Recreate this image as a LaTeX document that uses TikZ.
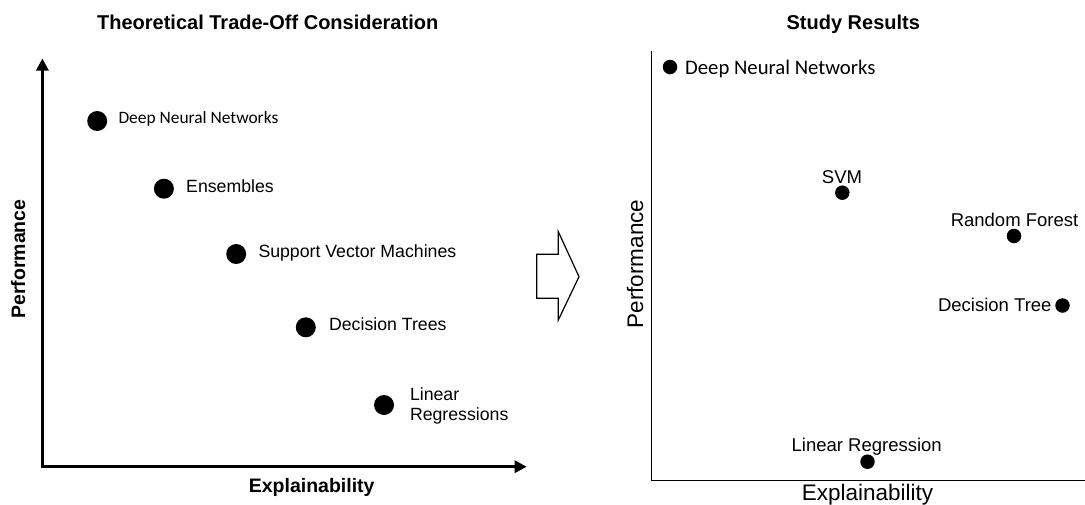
\documentclass[tikz,border=0pt]{standalone}
\usepackage{fontspec}
\setmainfont{Liberation Sans}
\newfontfamily\calib{Carlito}
\usetikzlibrary{arrows.meta}

\tikzset{
  dotL/.style={circle,fill=black,inner sep=0pt,minimum size=20pt},
  dotR/.style={circle,fill=black,inner sep=0pt,minimum size=14.5pt},
  lblL/.style={inner sep=0pt,font=\fontsize{17.7}{20.7}\selectfont},
  lblLc/.style={inner sep=0pt,font=\calib\fontsize{17.4}{20}\selectfont},
  lblR/.style={inner sep=0pt,font=\fontsize{18.5}{22}\selectfont},
  lblRc/.style={inner sep=0pt,font=\calib\fontsize{20.7}{24}\selectfont},
  ttl/.style={inner sep=0pt,font=\bfseries\fontsize{20}{24}\selectfont},
  axlblL/.style={inner sep=0pt,font=\bfseries\fontsize{19.5}{23}\selectfont},
  axlblR/.style={inner sep=0pt,font=\fontsize{22.5}{26}\selectfont},
  axisL/.style={line width=3pt,{Triangle[length=12pt,width=12pt]}-{Triangle[length=12pt,width=12pt]}},
  axisR/.style={line width=1.3pt},
  bigarrow/.style={draw=black,fill=white,line width=1.2pt,line join=miter}
}

\begin{document}
\begin{tikzpicture}[x=1pt,y=-1pt]
\useasboundingbox (0,0) rectangle (1085,504);

% ---------- left panel: theoretical trade-off ----------
\node[ttl,anchor=base] (titleL) at (267.7,29.3) {Theoretical Trade-Off Consideration};

\coordinate (yL) at (42.4,58.5);
\coordinate (oL) at (42.4,466.7);
\coordinate (xL) at (526.7,466.7);
\draw[axisL] (yL) -- (oL) -- (xL);

\node[axlblL,anchor=base,rotate=90] (perfL) at (25,259) {Performance};
\node[axlblL,anchor=base] (explL) at (311.7,492) {Explainability};

\node[dotL] (dnnL) at (97.2,121) {};
\node[lblLc,anchor=base west] (dnnLt) at (118.3,123.3) {Deep Neural Networks};

\node[dotL] (ensL) at (163.9,188.7) {};
\node[lblL,anchor=base west] (ensLt) at (186,192.7) {Ensembles};

\node[dotL] (svmL) at (236.2,254) {};
\node[lblL,anchor=base west] (svmLt) at (258.3,257.3) {Support Vector Machines};

\node[dotL] (dtL) at (305.8,327.3) {};
\node[lblL,anchor=base west] (dtLt) at (328.9,330) {Decision Trees};

\node[dotL] (lrL) at (384,405) {};
\node[lblL,anchor=base west] (lrLt) at (409.8,400)
  {\vtop{\baselineskip=20.7pt\hbox{Linear}\hbox{Regressions}}};

% ---------- transition arrow ----------
\draw[bigarrow] (536.7,254.3) -- (558.3,254.3) -- (558.3,231.7) -- (579,276.7)
  -- (558.3,320) -- (558.3,298.3) -- (536.7,298.3) -- cycle;

% ---------- right panel: study results ----------
\node[ttl,anchor=base] (titleR) at (853.3,29.3) {Study Results};

\coordinate (yR) at (651.7,51);
\coordinate (oR) at (651.7,480.7);
\coordinate (xR) at (1085,480.7);
\draw[axisR] (yR) -- (oR) -- (xR);

\node[axlblR,anchor=base,rotate=90] (perfR) at (643,264) {Performance};
\node[axlblR,anchor=base] (explR) at (867.5,500) {Explainability};

\node[dotR] (dnnR) at (670,67) {};
\node[lblRc,anchor=base west] (dnnRt) at (685,74.5) {Deep Neural Networks};

\node[dotR] (svmR) at (842.3,192.7) {};
\node[lblR,anchor=base] (svmRt) at (842,183.3) {SVM};

\node[dotR] (rfR) at (1014,236) {};
\node[lblR,anchor=base] (rfRt) at (1014.5,226.7) {Random Forest};

\node[dotR] (dtR) at (1062.5,305.5) {};
\node[lblR,anchor=base east] (dtRt) at (1051.7,311.7) {Decision Tree};

\node[dotR] (lrR) at (867.5,461.7) {};
\node[lblR,anchor=base] (lrRt) at (866.7,451.7) {Linear Regression};
\end{tikzpicture}
\end{document}
